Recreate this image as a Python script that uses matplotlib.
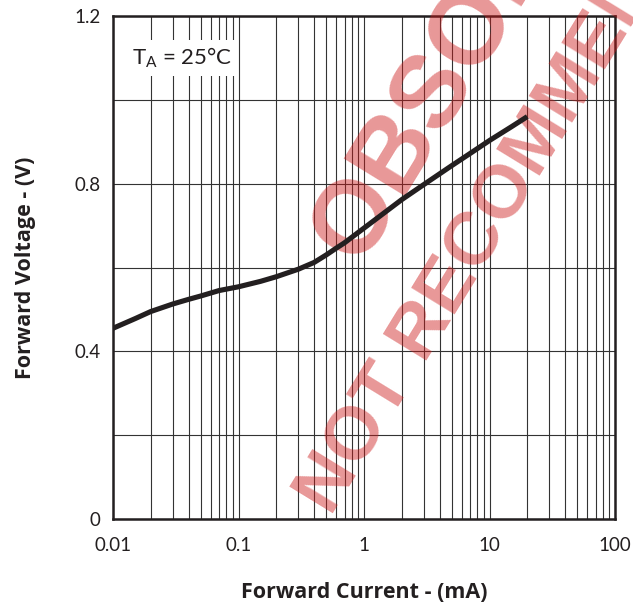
import matplotlib
matplotlib.use("Agg")
import matplotlib.pyplot as plt
from matplotlib.ticker import FixedLocator, NullFormatter, LogLocator

# ---- data ----
current_mA = [0.01, 0.015, 0.02, 0.03, 0.04, 0.05, 0.07, 0.1, 0.15, 0.2, 0.3, 0.4, 0.5, 0.6, 0.7,
              1, 2, 3, 5, 7, 10, 15, 20]
voltage_V = [0.455, 0.478, 0.495, 0.513, 0.524, 0.532, 0.545, 0.554, 0.567, 0.578, 0.596, 0.612,
             0.630, 0.646, 0.659, 0.694, 0.762, 0.798, 0.843, 0.872, 0.903, 0.936, 0.960]

x_ticks = [0.01, 0.1, 1, 10, 100]
x_tick_labels = ["0.01", "0.1", "1", "10", "100"]
y_ticks = [0, 0.4, 0.8, 1.2]
y_tick_labels = ["0", "0.4", "0.8", "1.2"]
y_minor = [0.2, 0.6, 1.0]

annotation = "T$_{\\mathregular{A}}$ = 25°C"
x_label = "Forward Current - (mA)"
y_label = "Forward Voltage - (V)"
watermark_1 = "OBSOLETE"
watermark_2 = "NOT RECOMMENDED"

plt.rcParams['font.family'] = ['Lato', 'DejaVu Sans']
plt.rcParams['mathtext.default'] = 'regular'

W, H = 633, 609
fig = plt.figure(figsize=(W / 100, H / 100), dpi=100)
ax = fig.add_axes([113 / W, (H - 519) / H, 502 / W, 503 / H])

ink = '#231f20'
ax.set_xscale('log')
ax.set_xlim(0.01, 100)
ax.set_ylim(0, 1.2)

ax.xaxis.set_major_locator(FixedLocator(x_ticks))
ax.set_xticks(x_ticks, x_tick_labels)
ax.xaxis.set_minor_locator(LogLocator(base=10, subs=range(2, 10)))
ax.xaxis.set_minor_formatter(NullFormatter())
ax.set_yticks(y_ticks, y_tick_labels)
ax.yaxis.set_minor_locator(FixedLocator(y_minor))

ax.tick_params(which='both', length=0)
ax.tick_params(axis='x', pad=13, labelsize=13.5, colors=ink)
ax.tick_params(axis='y', pad=9, labelsize=13.5, colors=ink)

ax.set_axisbelow(True)
ax.grid(True, which='both', color='#333333', linewidth=0.8)

for s in ax.spines.values():
    s.set_linewidth(1.8)
    s.set_color(ink)

ax.plot(current_mA, voltage_V, color=ink, linewidth=3.7, solid_capstyle='butt',
        solid_joinstyle='round', zorder=4)

ax.text((132 - 113) / 502, 1 - (65 - 16) / 503, annotation, transform=ax.transAxes,
        fontsize=16, color=ink, ha='left', va='baseline',
        bbox=dict(boxstyle='square,pad=0.25', fc='white', ec='none'), zorder=5)

ax.set_xlabel(x_label, fontsize=15.5, fontweight='bold', color=ink, family='Open Sans')
ax.xaxis.set_label_coords(0.5, (519 - 582) / 503)
ax.set_ylabel(y_label, fontsize=15.5, fontweight='bold', color=ink, family='Open Sans')
ax.yaxis.set_label_coords((36 - 113) / 502, 0.5)

wm_color = (0.8, 0.1, 0.1)
ax.text(359.0 / W, (H - 265.5) / H, watermark_1, transform=fig.transFigure,
        rotation=58.5, rotation_mode='anchor', ha='left', va='baseline',
        fontsize=74, fontweight='bold', family='Liberation Sans',
        color=wm_color, alpha=0.45, clip_on=False, zorder=3)
ax.text(330.4 / W, (H - 517.2) / H, watermark_2, transform=fig.transFigure,
        rotation=58.5, rotation_mode='anchor', ha='left', va='baseline',
        fontsize=54, fontweight='bold', family='Liberation Sans',
        color=wm_color, alpha=0.45, clip_on=False, zorder=3)

fig.savefig('out.png', dpi=100)
